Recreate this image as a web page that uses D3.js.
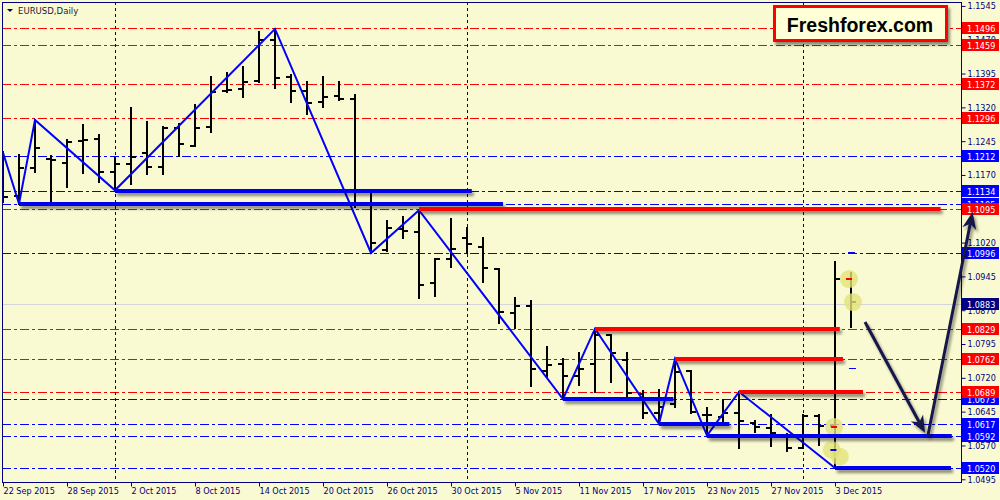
<!DOCTYPE html>
<html>
<head>
<meta charset="utf-8">
<script src="https://cdn.jsdelivr.net/npm/d3@7"></script>
<style>
  body { margin: 0; background: #fafad2; }
  svg { display: block; }
  .axis text { font-family: "DejaVu Sans Condensed", "DejaVu Sans", sans-serif; font-stretch: condensed; font-size: 9px; fill: #000080; }
  .axis line { stroke: #000080; }
</style>
</head>
<body>
<svg id="chart" width="1000" height="500"></svg>
<script>
// daily bars, EURUSD
const dates = ["22 Sep","23 Sep","24 Sep","25 Sep","28 Sep","29 Sep","30 Sep","1 Oct","2 Oct","5 Oct",
  "6 Oct","7 Oct","8 Oct","9 Oct","12 Oct","13 Oct","14 Oct","15 Oct","16 Oct","19 Oct",
  "20 Oct","21 Oct","22 Oct","23 Oct","26 Oct","27 Oct","28 Oct","29 Oct","30 Oct","2 Nov",
  "3 Nov","4 Nov","5 Nov","6 Nov","9 Nov","10 Nov","11 Nov","12 Nov","13 Nov","16 Nov",
  "17 Nov","18 Nov","19 Nov","20 Nov","23 Nov","24 Nov","25 Nov","26 Nov","27 Nov","30 Nov",
  "1 Dec","2 Dec","3 Dec","4 Dec"];
const opens = [1.1190,1.1123,1.1185,1.1205,1.1196,1.1245,1.1250,1.1177,1.1194,1.1218,
  1.1188,1.1274,1.1234,1.1276,1.1356,1.1361,1.1378,1.1469,1.1387,1.1356,
  1.1332,1.1345,1.1339,1.1105,1.1004,1.1050,1.1043,1.0930,1.0984,1.1030,
  1.1010,1.0961,1.0864,1.0879,1.0735,1.0751,1.0724,1.0751,1.0815,1.0759,
  1.0685,1.0642,1.0662,1.0735,1.0638,1.0633,1.0642,1.0620,1.0609,1.0594,
  1.0565,1.0636,1.0613,1.0940];
const highs = [1.1220,1.1214,1.1292,1.1212,1.1248,1.1281,1.1259,1.1207,1.1319,1.1287,
  1.1276,1.1283,1.1325,1.1387,1.1396,1.1409,1.1487,1.1494,1.1392,1.1376,
  1.1387,1.1376,1.1347,1.1132,1.1068,1.1077,1.1092,1.0984,1.1072,1.1052,
  1.1030,1.0961,1.0897,1.0890,1.0788,1.0762,1.0775,1.0829,1.0815,1.0775,
  1.0691,1.0693,1.0762,1.0735,1.0653,1.0671,1.0689,1.0624,1.0638,1.0596,
  1.0638,1.0638,1.0977,1.0953];
const lows = [1.1110,1.1106,1.1177,1.1110,1.1143,1.1174,1.1154,1.1136,1.1150,1.1172,
  1.1172,1.1212,1.1234,1.1265,1.1354,1.1343,1.1376,1.1363,1.1332,1.1305,
  1.1321,1.1336,1.1099,1.0997,1.1001,1.1030,1.0897,1.0901,1.0966,1.0997,
  1.0933,1.0842,1.0831,1.0702,1.0722,1.0673,1.0704,1.0689,1.0711,1.0677,
  1.0631,1.0618,1.0655,1.0642,1.0592,1.0620,1.0564,1.0600,1.0569,1.0558,
  1.0565,1.0570,1.0520,1.0833];
const closes = [1.1121,1.1185,1.1230,1.1203,1.1243,1.1247,1.1177,1.1194,1.1210,1.1188,
  1.1274,1.1239,1.1274,1.1354,1.1358,1.1376,1.1469,1.1385,1.1356,1.1330,
  1.1343,1.1339,1.1108,1.1019,1.1052,1.1046,1.0926,1.0984,1.1006,1.1017,
  1.0964,1.0866,1.0879,1.0740,1.0748,1.0724,1.0740,1.0815,1.0775,1.0686,
  1.0642,1.0655,1.0733,1.0644,1.0638,1.0642,1.0624,1.0611,1.0598,1.0565,
  1.0636,1.0614,1.0940,1.0888];

// zigzag pivots: bar index and whether the high or the low is used
const pivotBars = [0, 1, 2, 7, 17, 23, 26, 35, 37, 41, 42, 44, 46, 52];
const pivotSide = ["H","L","H","L","H","L","H","L","H","L","H","L","H","L"];

// horizontal levels drawn across the chart
const redLevels = [1.1496, 1.1459, 1.1372, 1.1296, 1.1095, 1.0829, 1.0762, 1.0689];
const blueLevels = [1.1212, 1.1134, 1.1105, 1.0996, 1.0673, 1.0617, 1.0592, 1.0520];
const bidPrice = 1.0883;

// thick support / resistance segments (start bar, end bar, price)
const supportFrom = [7, 1, 35, 41, 44, 52];
const supportTo = [29.3, 31.25, 41.9, 45.4, 59.3, 59.25];
const supportPrice = [1.1134, 1.1105, 1.0673, 1.0617, 1.0592, 1.0520];
const resistFrom = [26, 37, 42, 46];
const resistTo = [58.6, 52.3, 52.5, 53.75];
const resistPrice = [1.1095, 1.0829, 1.0762, 1.0689];

// forecast arrows (bar position, price)
const arrowDown = [[53.875, 1.0844], [57.625, 1.0598]];
const arrowUp = [[57.8, 1.0591], [60.6, 1.1088]];

// trade markers on the last bars
const markerBar = [52.875, 53.125, 51.94, 51.8, 52.3];
const markerPrice = [1.0939, 1.0888, 1.0611, 1.0560, 1.0545];

// month separators
const separatorBars = [7, 29, 50];

// axis ticks
const xTickBars = [0, 4, 8, 12, 16, 20, 24, 28, 32, 36, 40, 44, 48, 52];
const xTickLabels = ["22 Sep 2015","28 Sep 2015","2 Oct 2015","8 Oct 2015","14 Oct 2015","20 Oct 2015",
  "26 Oct 2015","30 Oct 2015","5 Nov 2015","11 Nov 2015","17 Nov 2015","23 Nov 2015","27 Nov 2015","3 Dec 2015"];
const yTicks = [1.1545, 1.1470, 1.1395, 1.1320, 1.1245, 1.1170, 1.1095, 1.1020,
  1.0945, 1.0870, 1.0795, 1.0720, 1.0645, 1.0570, 1.0495];

const W = 1000, H = 500;
const plot = { left: 2, right: 961, top: 2, bottom: 482 };

const x = d3.scaleLinear().domain([0, 1]).range([3, 19]);
const y = d3.scaleLinear().domain([1.0520, 1.1496]).range([468, 28]);
const py = v => Math.round(y(v));

const svg = d3.select("#chart");
const defs = svg.append("defs");
defs.append("clipPath").attr("id", "plotClip")
  .append("rect")
  .attr("x", plot.left).attr("y", plot.top)
  .attr("width", plot.right - plot.left).attr("height", plot.bottom - plot.top);
defs.append("filter").attr("id", "shadow")
  .attr("filterUnits", "userSpaceOnUse")
  .attr("x", 0).attr("y", 0).attr("width", W).attr("height", H)
  .append("feDropShadow")
  .attr("dx", 2).attr("dy", 3).attr("stdDeviation", 1.6)
  .attr("flood-color", "#000").attr("flood-opacity", 0.45);

svg.append("rect").attr("width", W).attr("height", H).attr("fill", "#fafad2");

const chart = svg.append("g").attr("clip-path", "url(#plotClip)");

// bid line
chart.append("line")
  .attr("x1", plot.left).attr("x2", plot.right)
  .attr("y1", py(bidPrice) + 0.5).attr("y2", py(bidPrice) + 0.5)
  .attr("stroke", "#d4d4dc").attr("stroke-width", 1);

// dash-dot levels
chart.selectAll(".lvl-red")
  .data(redLevels)
  .enter()
  .append("line")
  .attr("x1", plot.left).attr("x2", plot.right)
  .attr("y1", d => py(d) + 0.5).attr("y2", d => py(d) + 0.5)
  .attr("stroke", "#ff0000").attr("stroke-dasharray", "9,3,3,3");

chart.selectAll(".lvl-blue")
  .data(blueLevels)
  .enter()
  .append("line")
  .attr("x1", plot.left).attr("x2", plot.right)
  .attr("y1", d => py(d) + 0.5).attr("y2", d => py(d) + 0.5)
  .attr("stroke", "#0000ff").attr("stroke-dasharray", "9,3,3,3");

// period separators
chart.selectAll(".sep")
  .data(separatorBars)
  .enter()
  .append("line")
  .attr("x1", d => x(d) + 0.5).attr("x2", d => x(d) + 0.5)
  .attr("y1", plot.top).attr("y2", plot.bottom)
  .attr("stroke", "#000080").attr("stroke-dasharray", "3,3");

// OHLC bars
const bars = chart.append("g").attr("stroke", "#000").attr("stroke-width", 2);
dates.forEach((d, i) => {
  const cx = x(i);
  bars.append("line").attr("x1", cx).attr("x2", cx).attr("y1", py(highs[i]) - 1).attr("y2", py(lows[i]) + 1);
  bars.append("line").attr("x1", cx - 5).attr("x2", cx).attr("y1", py(opens[i])).attr("y2", py(opens[i]));
  bars.append("line").attr("x1", cx).attr("x2", cx + 5).attr("y1", py(closes[i])).attr("y2", py(closes[i]));
});

// zigzag
const zz = pivotBars.map((b, k) => [x(b), y(pivotSide[k] === "H" ? highs[b] : lows[b])]);
chart.append("path")
  .attr("d", d3.line()(zz))
  .attr("fill", "none")
  .attr("stroke", "#0000ff")
  .attr("stroke-width", 2);

// thick segments
const thick = svg.append("g").attr("filter", "url(#shadow)");
supportPrice.forEach((p, k) => {
  thick.append("line")
    .attr("x1", x(supportFrom[k])).attr("x2", x(supportTo[k]))
    .attr("y1", py(p)).attr("y2", py(p))
    .attr("stroke", "#0000f0").attr("stroke-width", 4);
});
resistPrice.forEach((p, k) => {
  thick.append("line")
    .attr("x1", x(resistFrom[k])).attr("x2", x(resistTo[k]))
    .attr("y1", py(p)).attr("y2", py(p))
    .attr("stroke", "#ff0000").attr("stroke-width", 4);
});

// trade markers
const marks = chart.append("g");
markerBar.forEach((b, k) => {
  marks.append("circle")
    .attr("cx", x(b)).attr("cy", y(markerPrice[k])).attr("r", 9)
    .attr("fill", "#e2e27a").attr("opacity", 0.8);
});
marks.append("rect").attr("x", x(52.875) - 3).attr("y", py(1.0939) - 1).attr("width", 6).attr("height", 2).attr("fill", "#ff0000");
marks.append("rect").attr("x", x(51.94) - 3).attr("y", py(1.0611) - 1).attr("width", 6).attr("height", 2).attr("fill", "#ff0000");
marks.append("rect").attr("x", x(51.9) - 3).attr("y", py(1.0560) - 1).attr("width", 6).attr("height", 2).attr("fill", "#0000ff");
marks.append("rect").attr("x", x(53.0) - 3).attr("y", py(1.0996) - 1).attr("width", 7).attr("height", 2).attr("fill", "#0000ff");
marks.append("rect").attr("x", x(53.06) - 3).attr("y", py(1.0740) - 1).attr("width", 7).attr("height", 1).attr("fill", "#0000ff");

// frame
svg.append("rect")
  .attr("x", plot.left + 0.5).attr("y", plot.top + 0.5)
  .attr("width", plot.right - plot.left).attr("height", plot.bottom - plot.top)
  .attr("fill", "none").attr("stroke", "#000080");

// price axis; a tick label sitting exactly under a level box is hidden, as in the terminal
const labelled = redLevels.concat(blueLevels, [bidPrice]).map(d => d.toFixed(4));
const yAxis = svg.append("g")
  .attr("class", "axis")
  .attr("transform", `translate(${plot.right + 0.5},0)`)
  .call(d3.axisRight(y).tickValues(yTicks).tickSize(4).tickPadding(2).tickFormat(d3.format(".4f")));
yAxis.select(".domain").remove();
yAxis.selectAll(".tick text").filter(d => labelled.includes(d.toFixed(4))).remove();

// time axis
const xAxis = svg.append("g")
  .attr("class", "axis")
  .attr("transform", `translate(0,${plot.bottom + 0.5})`)
  .call(d3.axisBottom(x).tickValues(xTickBars).tickSize(4).tickFormat((d, i) => xTickLabels[i]));
xAxis.select(".domain").remove();
xAxis.selectAll("text").attr("text-anchor", "start").attr("y", 5).attr("dy", "0.71em");

// level labels on the price axis
function levelLabel(p, fill) {
  const g = svg.append("g");
  g.append("rect")
    .attr("x", plot.right + 1).attr("y", py(p) - 6)
    .attr("width", 37).attr("height", 12)
    .attr("fill", fill);
  g.append("text")
    .attr("x", plot.right + 6).attr("y", py(p) + 3.5)
    .style("font-family", "'DejaVu Sans Condensed', 'DejaVu Sans', sans-serif")
    .style("font-stretch", "condensed")
    .style("font-size", "9px")
    .style("fill", "#fff")
    .text(d3.format(".4f")(p));
}
blueLevels.forEach(p => levelLabel(p, "#0000ff"));
redLevels.forEach(p => levelLabel(p, "#ff0000"));
levelLabel(bidPrice, "#000080");

// title
svg.append("path").attr("d", "M7,9 L13,9 L10,12 Z").attr("fill", "#000050");
svg.append("text")
  .attr("x", 18).attr("y", 14)
  .style("font-family", "'DejaVu Sans Condensed', 'DejaVu Sans', sans-serif")
  .style("font-stretch", "condensed")
  .style("font-size", "9.5px")
  .style("fill", "#1a1a3a")
  .text("EURUSD,Daily");

// forecast arrows
function arrow(pts) {
  const x0 = x(pts[0][0]), y0 = y(pts[0][1]);
  const x1 = x(pts[1][0]), y1 = y(pts[1][1]);
  const a = Math.atan2(y1 - y0, x1 - x0);
  const L = 17, w = 7, n = 12;
  const ux = Math.cos(a), uy = Math.sin(a);
  const g = svg.append("g").attr("filter", "url(#shadow)");
  g.append("line")
    .attr("x1", x0).attr("y1", y0)
    .attr("x2", x1 - ux * n).attr("y2", y1 - uy * n)
    .attr("stroke", "#16164a").attr("stroke-width", 3);
  const head = [
    [x1, y1],
    [x1 - ux * L - uy * w, y1 - uy * L + ux * w],
    [x1 - ux * n, y1 - uy * n],
    [x1 - ux * L + uy * w, y1 - uy * L - ux * w]
  ];
  g.append("path").attr("d", "M" + head.join("L") + "Z").attr("fill", "#16164a");
}
arrow(arrowDown);
arrow(arrowUp);

// logo box
const logo = svg.append("g");
logo.append("rect")
  .attr("x", 774.5).attr("y", 6.5).attr("width", 172).attr("height", 34)
  .attr("fill", "#ffffd8").attr("stroke", "#ff0000").attr("stroke-width", 3)
  .attr("filter", "url(#shadow)");
logo.append("text")
  .attr("x", 860).attr("y", 32)
  .attr("text-anchor", "middle")
  .style("font-family", "'Liberation Sans', Arial, sans-serif")
  .style("font-weight", "bold")
  .style("font-size", "19.5px")
  .style("fill", "#000")
  .text("Freshforex.com");
</script>
</body>
</html>
